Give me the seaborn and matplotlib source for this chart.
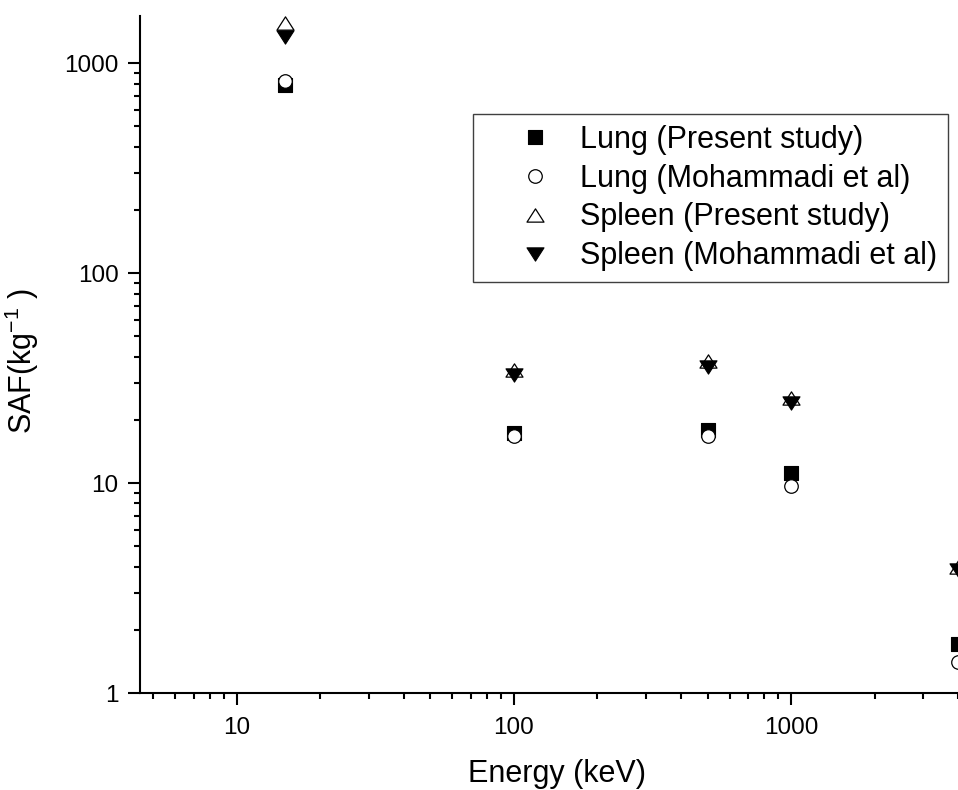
import numpy as np
import pandas as pd
import matplotlib
matplotlib.use("Agg")
import matplotlib.pyplot as plt
from matplotlib.path import Path
from matplotlib.ticker import LogLocator, FixedLocator, FixedFormatter, NullFormatter
import seaborn as sns

# ---- data ----
energy = [15, 100, 500, 1000, 4000]
lung_present = [790, 17.3, 17.9, 11.2, 1.72]
lung_moh = [820, 16.8, 16.8, 9.7, 1.40]
spleen_present = [1550, 34.5, 38.3, 25.5, 4.0]
spleen_moh = [1330, 32.7, 35.8, 24.0, 3.85]
series_labels = ["Lung (Present study)", "Lung (Mohammadi et al)",
                 "Spleen (Present study)", "Spleen (Mohammadi et al)"]
x_ticks = [10, 100, 1000]
x_tick_labels = ["10", "100", "1000"]
y_ticks = [1, 10, 100, 1000]
y_tick_labels = ["1", "10", "100", "1000"]

sns.set_style("ticks")
plt.rcParams['font.family'] = ['Liberation Sans', 'DejaVu Sans']
plt.rcParams['mathtext.fontset'] = 'custom'
plt.rcParams['mathtext.rm'] = 'Liberation Sans'
plt.rcParams['mathtext.it'] = 'Liberation Sans'
plt.rcParams['text.color'] = 'black'
plt.rcParams['axes.labelcolor'] = 'black'
plt.rcParams['xtick.color'] = 'black'
plt.rcParams['ytick.color'] = 'black'

W, H = 958, 790
fig = plt.figure(figsize=(W / 100, H / 100), dpi=100)
ax = fig.add_axes([140 / W, 97 / H, 818 / W, 677 / H])

up_verts = [(0, 0.78), (-1, -0.78), (1, -0.78), (0, 0.78)]
dn_verts = [(0, -0.78), (-1, 0.78), (1, 0.78), (0, -0.78)]
tri_up = Path(up_verts, closed=True)
tri_dn = Path(dn_verts, closed=True)

series = [
    (lung_present, dict(marker="s", s=88, facecolor="black", edgecolor="black", linewidth=0.8)),
    (lung_moh, dict(marker="o", s=95, facecolor="white", edgecolor="black", linewidth=0.9)),
    (spleen_present, dict(marker=tri_up, s=150, facecolor="white", edgecolor="black", linewidth=0.9)),
    (spleen_moh, dict(marker=tri_dn, s=150, facecolor="black", edgecolor="black", linewidth=0.8)),
]
for (vals, style), lab in zip(series, series_labels):
    df = pd.DataFrame({"Energy": energy, "SAF": vals})
    sns.scatterplot(data=df, x="Energy", y="SAF", ax=ax, label=lab, zorder=3, **style)

ax.set_xscale("log")
ax.set_yscale("log")
ax.set_xlim(4.48, 4000)
ax.set_ylim(1, 1680)

ax.xaxis.set_major_locator(FixedLocator(x_ticks))
ax.xaxis.set_major_formatter(FixedFormatter(x_tick_labels))
ax.xaxis.set_minor_locator(LogLocator(base=10, subs=np.arange(2, 10)))
ax.xaxis.set_minor_formatter(NullFormatter())
ax.yaxis.set_major_locator(FixedLocator(y_ticks))
ax.yaxis.set_major_formatter(FixedFormatter(y_tick_labels))
ax.yaxis.set_minor_locator(LogLocator(base=10, subs=np.arange(2, 10)))
ax.yaxis.set_minor_formatter(NullFormatter())

for side in ["top", "right"]:
    ax.spines[side].set_visible(False)
for side in ["left", "bottom"]:
    ax.spines[side].set_linewidth(1.5)
    ax.spines[side].set_color("black")

ax.tick_params(which="major", direction="out", length=8.5, width=1.5,
               labelsize=17.5, colors="black")
ax.tick_params(axis="x", which="major", pad=8.5)
ax.tick_params(axis="y", which="major", pad=7)
ax.tick_params(which="minor", direction="out", length=4.5, width=1.5, colors="black")

ax.set_xlabel("Energy (keV)", fontsize=22)
ax.set_ylabel(r"SAF(kg$^{-1}$ )", fontsize=22)
ax.xaxis.set_label_coords((557 - 140) / 818, (693 - 759) / 677)
ax.yaxis.set_label_coords((41 - 140) / 818, (693 - 361) / 677)

handles, labels = ax.get_legend_handles_labels()
fs = 22
fs_px = fs * 100 / 72
bp = 0.35
leg = ax.legend(handles, labels, loc="upper left",
                bbox_to_anchor=(473 / W, (H - 114) / H), bbox_transform=fig.transFigure,
                borderaxespad=0, fontsize=fs, frameon=True, fancybox=False,
                edgecolor="#404040", framealpha=1,
                borderpad=bp, handlelength=102 / fs_px,
                handletextpad=(580 - 473 - bp * fs_px - 102) / fs_px,
                labelspacing=0.29, scatterpoints=1, scatteryoffsets=[0.5])
leg.get_frame().set_linewidth(1.0)

fig.savefig("out.png", dpi=100)
